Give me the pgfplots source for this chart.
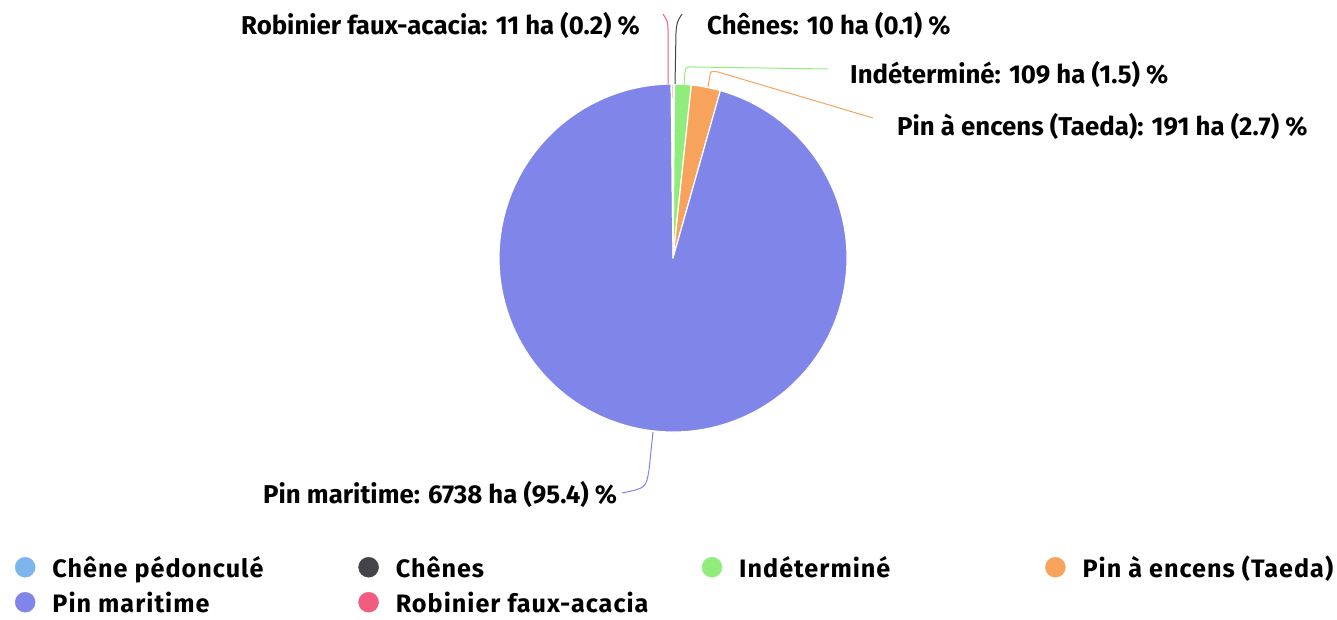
\documentclass[border=0pt]{standalone}
\usepackage{pgfplots}
\usepackage{pgfplotstable}
\pgfplotsset{compat=1.18}
\usepackage{fontspec}
\setmainfont{Fira Sans}

\definecolor{cA}{HTML}{7CB5EC}
\definecolor{cB}{HTML}{434348}
\definecolor{cC}{HTML}{90ED7D}
\definecolor{cD}{HTML}{F7A35C}
\definecolor{cE}{HTML}{8085E9}
\definecolor{cF}{HTML}{F15C80}

\pgfplotstableread{
name value
pedoncule 0
chenes 10
indetermine 109
encens 191
maritime 6738
robinier 11
}\piedata

\pgfplotstablegetelem{0}{value}\of\piedata \let\vA\pgfplotsretval
\pgfplotstablegetelem{1}{value}\of\piedata \let\vB\pgfplotsretval
\pgfplotstablegetelem{2}{value}\of\piedata \let\vC\pgfplotsretval
\pgfplotstablegetelem{3}{value}\of\piedata \let\vD\pgfplotsretval
\pgfplotstablegetelem{4}{value}\of\piedata \let\vE\pgfplotsretval
\pgfplotstablegetelem{5}{value}\of\piedata \let\vF\pgfplotsretval
\pgfmathsetmacro\tot{\vA+\vB+\vC+\vD+\vE+\vF}
\pgfmathsetmacro\aA{90}
\pgfmathsetmacro\aB{\aA-\vA/\tot*360}
\pgfmathsetmacro\aC{\aB-\vB/\tot*360}
\pgfmathsetmacro\aD{\aC-\vC/\tot*360}
\pgfmathsetmacro\aE{\aD-\vD/\tot*360}
\pgfmathsetmacro\aF{\aE-\vE/\tot*360}
\pgfmathsetmacro\aG{\aF-\vF/\tot*360}

\newcommand\slice[3]{\fill[#3, draw=white, line width=1.2pt, line join=round]
  (axis cs:673,362) -- ([shift={(#1:174pt)}]axis cs:673,362)
  arc[start angle=#1, end angle=#2, radius=174pt] -- cycle;}

\newcommand\lbl[1]{\bfseries\fontsize{25.8}{30}\selectfont #1}
\newcommand\leg[1]{\makebox[323pt][l]{\rule[-7pt]{0pt}{30pt}\hspace{17pt}#1}}
\newcommand\legL[1]{\rule[-7pt]{0pt}{30pt}\hspace{17pt}#1}

\pgfplotsset{
  piebase/.style={
    width=1337pt, height=620pt, scale only axis,
    xmin=0, xmax=1337, ymin=0, ymax=620,
    enlargelimits=false, hide axis, clip=false,
    legend cell align=left,
    legend image code/.code={\fill[##1] (10pt,0pt) circle (10pt); \path (0pt,-5pt) (20pt,5pt);},
    legend style={anchor=north west, draw=none, fill=none,
      inner sep=0pt, outer sep=0pt, column sep=0pt,
      nodes={inner sep=0pt, outer sep=0pt, font=\bfseries\fontsize{25.2}{29}\selectfont\addfontfeature{LetterSpace=4}}},
  }
}

\begin{document}
\begin{tikzpicture}
\begin{axis}[piebase, legend columns=4, legend style={at={(axis cs:15,65)}}]
\path (axis cs:0,0) rectangle (axis cs:1337,620);

\slice{\aB}{\aC}{cB}
\slice{\aC}{\aD}{cC}
\slice{\aD}{\aE}{cD}
\slice{\aE}{\aF}{cE}
\slice{\aF}{\aG}{cF}

% connectors
\draw[cF, line width=1pt] (axis cs:668,536) -- (axis cs:668,588) .. controls (axis cs:668,598) .. (axis cs:663,606);
\draw[cB, line width=1pt] (axis cs:675,536) -- (axis cs:676,588) .. controls (axis cs:677,598) .. (axis cs:682,606);
\draw[cC, line width=1pt] (axis cs:684,535) -- (axis cs:685,548) .. controls (axis cs:686,553) .. (axis cs:694,553) -- (axis cs:828,551);
\draw[cD, line width=1pt] (axis cs:708,533) -- (axis cs:710,545) .. controls (axis cs:711,549) .. (axis cs:718,548) -- (axis cs:873,502);
\draw[cE, line width=1pt] (axis cs:653,188) -- (axis cs:649,150) .. controls (axis cs:646,132) .. (axis cs:622,127);

% labels
\node[anchor=base east, inner sep=0pt] at (axis cs:640,585) {\lbl{Robinier faux-acacia: 11 ha (0.2) \%}};
\node[anchor=base west, inner sep=0pt] at (axis cs:707,585) {\lbl{Chênes: 10 ha (0.1) \%}};
\node[anchor=base west, inner sep=0pt] at (axis cs:850,536) {\lbl{Indéterminé: 109 ha (1.5) \%}};
\node[anchor=base west, inner sep=0pt] at (axis cs:897,484) {\lbl{Pin à encens (Taeda): 191 ha (2.7) \%}};
\node[anchor=base west, inner sep=0pt] at (axis cs:263,116) {\lbl{Pin maritime: 6738 ha (95.4) \%}};

\addlegendimage{cA}
\addlegendentry{\leg{Chêne pédonculé}}
\addlegendimage{cB}
\addlegendentry{\leg{Chênes}}
\addlegendimage{cC}
\addlegendentry{\leg{Indéterminé}}
\addlegendimage{cD}
\addlegendentry{\legL{Pin à encens (Taeda)}}
\end{axis}
\begin{axis}[piebase, legend columns=2, legend style={at={(axis cs:15,30)}}]
\path (axis cs:0,0) rectangle (axis cs:1337,620);
\addlegendimage{cE}
\addlegendentry{\leg{Pin maritime}}
\addlegendimage{cF}
\addlegendentry{\legL{Robinier faux-acacia}}
\end{axis}
\end{tikzpicture}
\end{document}
